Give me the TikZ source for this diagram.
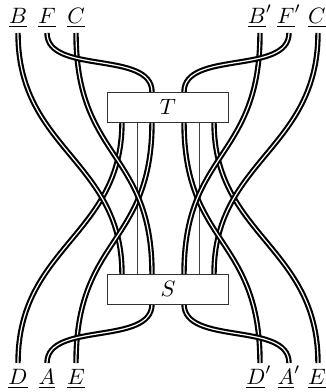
\documentclass[tikz,border=0pt]{standalone}
\usepackage{amsmath}
\begin{document}
\begin{tikzpicture}[x=0.45pt,y=0.45pt,
  strand/.style={draw=black,double=white,line width=0.95pt,double distance=0.55pt},
  thinline/.style={draw=black!75,line width=0.4pt},
  boxnode/.style={draw=black!80,fill=white,line width=0.4pt,minimum width=54.45pt,minimum height=13.5pt,inner sep=0pt},
  lab/.style={inner sep=0pt,anchor=south}]
\useasboundingbox (-168,198) rectangle (158,-194);
% strand ends
\coordinate (b0) at (-150,165);
\coordinate (f0) at (-121,165);
\coordinate (c0) at (-92,165);
\coordinate (bp0) at (92,165);
\coordinate (fp0) at (121,165);
\coordinate (cp0) at (150,165);
\coordinate (d0) at (-150,-165);
\coordinate (a0) at (-121,-165);
\coordinate (e0) at (-92,-165);
\coordinate (dp0) at (92,-165);
\coordinate (ap0) at (121,-165);
\coordinate (ep0) at (150,-165);
% box attachment points
\coordinate (tf) at (-16,106);
\coordinate (tfp) at (16,106);
\coordinate (td) at (-46,76);
\coordinate (tl) at (-31,76);
\coordinate (te) at (-16,76);
\coordinate (tdp) at (16,76);
\coordinate (tr) at (31,76);
\coordinate (tep) at (46,76);
\coordinate (sb) at (-46,-76);
\coordinate (sl) at (-31,-76);
\coordinate (sc) at (-16,-76);
\coordinate (sbp) at (16,-76);
\coordinate (sr) at (31,-76);
\coordinate (scp) at (46,-76);
\coordinate (sa) at (-16,-106);
\coordinate (sap) at (16,-106);
% thin lines
\draw[thinline] (tl) -- (sl);
\draw[thinline] (tr) -- (sr);
% long strands
\draw[strand] (d0) .. controls (-150,-48) and (-46,-38) .. (td);
\draw[strand] (b0) .. controls (-150,48) and (-46,38) .. (sb);
\draw[strand] (ep0) .. controls (150,-48) and (46,-38) .. (tep);
\draw[strand] (cp0) .. controls (150,48) and (46,38) .. (scp);
\draw[strand] (e0) .. controls (-92,-38) and (-16,-48) .. (te);
\draw[strand] (c0) .. controls (-92,38) and (-16,48) .. (sc);
\draw[strand] (dp0) .. controls (92,-38) and (16,-48) .. (tdp);
\draw[strand] (bp0) .. controls (92,38) and (16,48) .. (sbp);
% short strands
\draw[strand] (f0) .. controls (-121,123) and (-16,148) .. (tf);
\draw[strand] (fp0) .. controls (121,123) and (16,148) .. (tfp);
\draw[strand] (a0) .. controls (-121,-123) and (-16,-148) .. (sa);
\draw[strand] (ap0) .. controls (121,-123) and (16,-148) .. (sap);
% boxes
\node[boxnode] (T) at (0,91) {$T$};
\node[boxnode] (S) at (0,-91) {$S$};
% labels
\node[lab] (lB) at (-150,170) {$\underline{B}$};
\node[lab] (lF) at (-121,170) {$\underline{F}$};
\node[lab] (lC) at (-92,170) {$\underline{C}$};
\node[lab] (lBp) at (92,170) {$\underline{B}'$};
\node[lab] (lFp) at (121,170) {$\underline{F}'$};
\node[lab] (lCp) at (152,170) {$\underline{C}'$};
\node[lab] (lD) at (-150,-191) {$\underline{D}$};
\node[lab] (lA) at (-121,-191) {$\underline{A}$};
\node[lab] (lE) at (-92,-191) {$\underline{E}$};
\node[lab] (lDp) at (91,-191) {$\underline{D}'$};
\node[lab] (lAp) at (121,-191) {$\underline{A}'$};
\node[lab] (lEp) at (152,-191) {$\underline{E}'$};
\end{tikzpicture}
\end{document}
